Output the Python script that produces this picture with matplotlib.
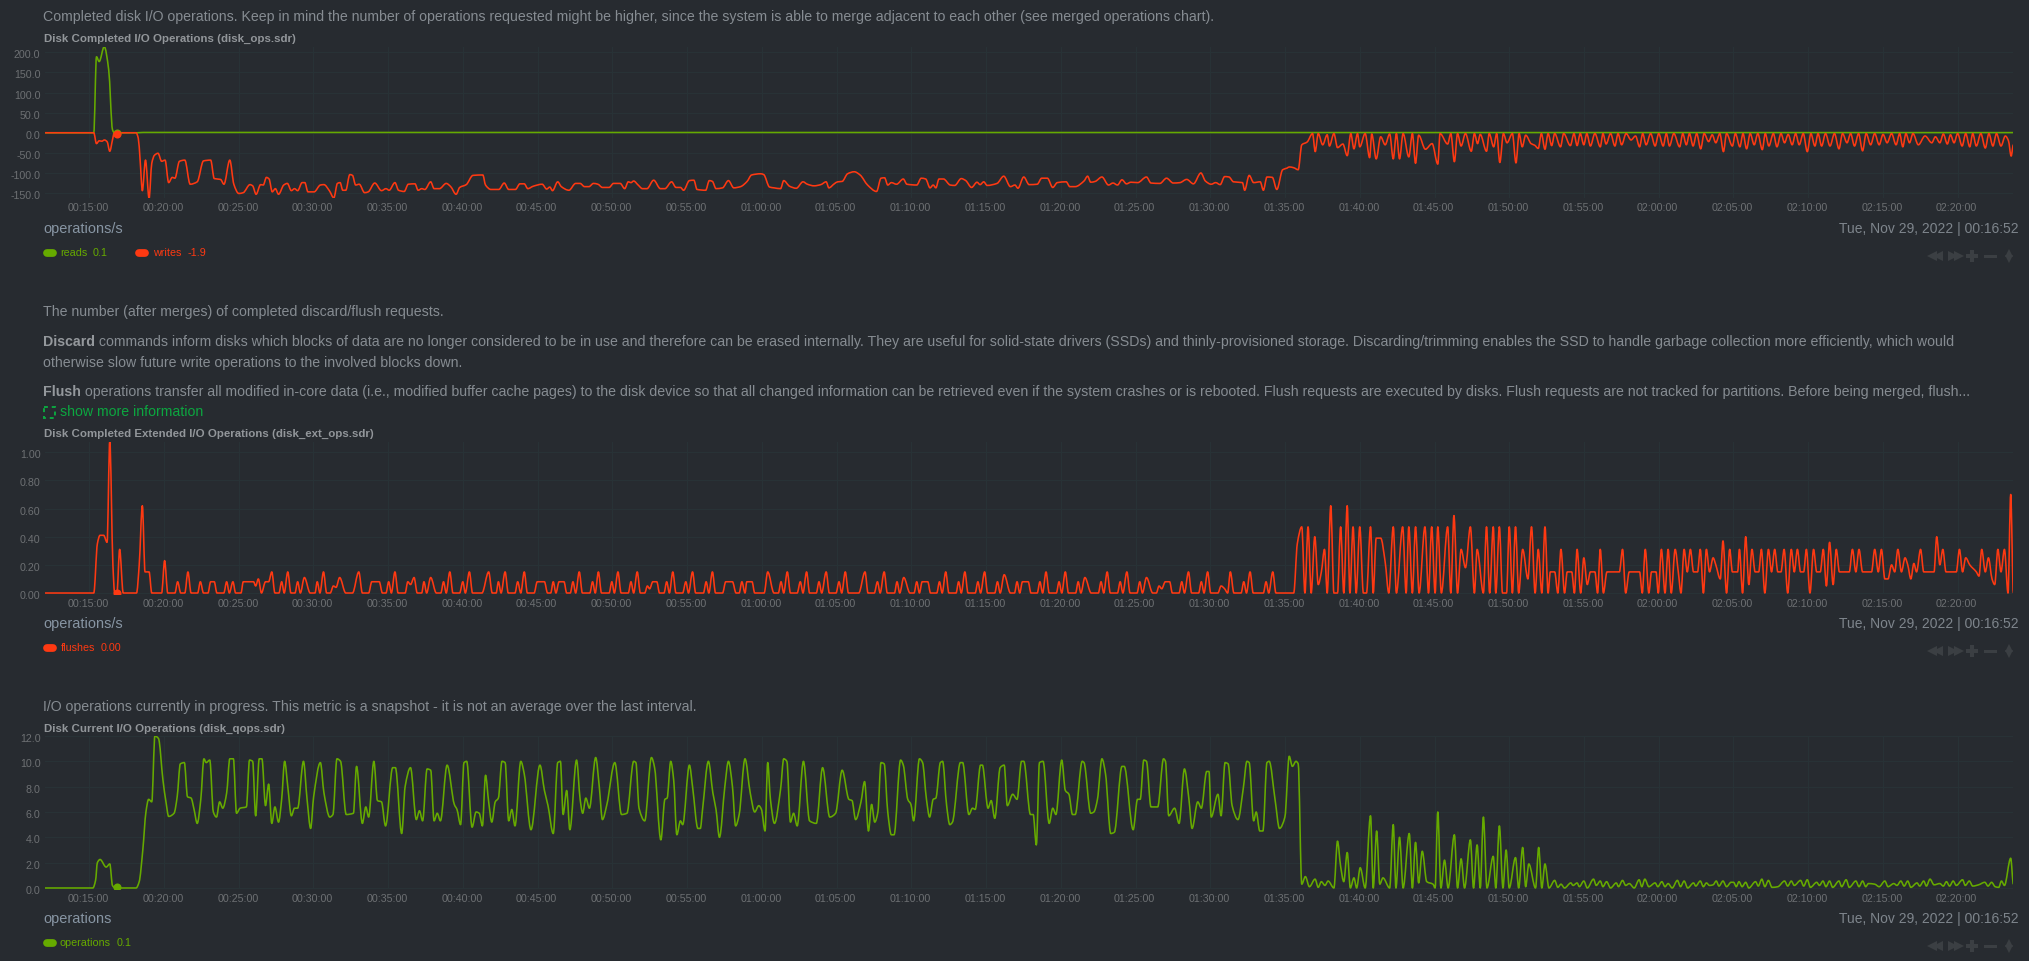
import matplotlib
matplotlib.use("Agg")
import matplotlib.pyplot as plt
from matplotlib.patches import PathPatch, Rectangle
from matplotlib.path import Path
from matplotlib.transforms import ScaledTranslation

# all series are (minutes after midnight, value)
reads = [(12.01, 0), (15.3, 0), (15.48, 189), (15.66, 177), (16.0, 214), (16.3, 156), (16.55, 8), (16.67, 0),
         (18.2, 0), (18.6, 0.8), (143.73, 0.4)]

writes = [(12.01, 0), (15.3, 0), (15.48, -27), (15.66, -20), (15.84, -21), (16.01, -18), (16.19, -22), (16.37, -46),
          (16.55, -18), (16.67, 0), (18.13, 0), (18.28, -14), (18.4, -68), (18.55, -144), (18.76, -68), (19.0, -163),
          (19.18, -76), (19.36, -56), (19.6, -51), (19.84, -71), (20.07, -68), (20.31, -124), (20.55, -111),
          (20.73, -113), (21.03, -71), (21.39, -68), (21.75, -128), (22.22, -122), (22.64, -70), (23.12, -68),
          (23.36, -114), (23.78, -116), (24.01, -128), (24.4, -68), (24.67, -128), (25.0, -151), (25.3, -149),
          (25.75, -129), (25.93, -132), (26.16, -153), (26.46, -129), (26.64, -130), (26.85, -111), (27.03, -115),
          (27.24, -147), (27.45, -139), (27.66, -153), (28.01, -130), (28.25, -126), (28.52, -144), (28.73, -139),
          (28.94, -144), (29.24, -124), (29.42, -124), (29.63, -147), (30.04, -147), (30.46, -130), (30.7, -129),
          (31.06, -144), (31.36, -162), (31.6, -126), (31.78, -124), (31.96, -143), (32.16, -143), (32.43, -104),
          (32.61, -106), (32.82, -130), (33.06, -128), (33.42, -149), (33.66, -147), (34.1, -125), (34.55, -144),
          (34.85, -139), (35.06, -143), (35.45, -124), (35.69, -143), (36.07, -146), (36.34, -128), (36.79, -127),
          (37.0, -143), (37.24, -139), (37.45, -141), (37.84, -122), (38.07, -139), (38.43, -139), (38.88, -126),
          (39.18, -134), (39.54, -153), (39.78, -136), (40.22, -129), (40.67, -106), (41.33, -105), (41.51, -130),
          (41.87, -141), (42.4, -141), (42.76, -125), (43.06, -141), (43.51, -141), (43.81, -127), (44.1, -127),
          (44.34, -139), (44.7, -133), (45.3, -128), (45.6, -140), (45.81, -135), (45.99, -144), (46.34, -122),
          (46.58, -134), (47.09, -143), (47.54, -126), (47.84, -126), (48.13, -134), (48.43, -134), (48.73, -126),
          (49.03, -128), (49.33, -136), (49.78, -136), (50.07, -126), (50.52, -126), (50.82, -139), (51.06, -122),
          (51.24, -124), (51.42, -120), (51.72, -130), (52.01, -139), (52.31, -139), (52.76, -118), (53.21, -139),
          (53.51, -139), (53.96, -122), (54.25, -136), (54.55, -136), (54.76, -143), (55.15, -119), (55.45, -118),
          (55.66, -141), (56.24, -143), (56.48, -119), (56.69, -121), (56.93, -139), (57.37, -137), (57.76, -119),
          (58.12, -137), (58.57, -134), (59.01, -121), (59.31, -105), (59.91, -102), (60.12, -104), (60.51, -135),
          (60.81, -137), (61.25, -139), (61.46, -119), (61.85, -133), (62.3, -138), (62.75, -122), (63.04, -128),
          (63.49, -132), (63.94, -129), (64.3, -122), (64.48, -137), (64.84, -127), (65.07, -122), (65.37, -121),
          (65.73, -102), (66.18, -97), (66.57, -105), (67.07, -130), (67.67, -146), (67.97, -113), (68.21, -112),
          (68.42, -130), (68.66, -124), (69.01, -128), (69.46, -115), (69.7, -128), (70.36, -130), (70.66, -113),
          (70.96, -115), (71.25, -137), (71.46, -130), (71.64, -137), (71.85, -115), (72.15, -115), (72.6, -130),
          (72.9, -131), (73.34, -114), (73.64, -119), (74.03, -136), (74.39, -123), (74.6, -129), (74.84, -122),
          (75.07, -131), (75.73, -126), (76.18, -108), (76.63, -134), (76.93, -130), (77.13, -138), (77.52, -110),
          (77.88, -129), (78.42, -128), (78.72, -113), (79.1, -113), (79.46, -136), (79.76, -124), (80.36, -122),
          (80.6, -134), (80.96, -134), (81.55, -120), (81.79, -108), (82.0, -123), (82.3, -121), (82.75, -110),
          (83.19, -130), (83.49, -125), (83.79, -130), (84.09, -117), (84.39, -127), (84.69, -123), (85.14, -124),
          (85.73, -110), (86.03, -125), (86.63, -126), (87.07, -113), (87.52, -125), (87.97, -124), (88.42, -116),
          (88.87, -127), (89.37, -100), (89.67, -120), (90.06, -128), (90.36, -124), (90.66, -129), (90.96, -109),
          (91.25, -110), (91.55, -122), (92.15, -124), (92.3, -143), (92.6, -106), (92.9, -124), (93.34, -122),
          (93.55, -143), (93.79, -110), (94.15, -111), (94.45, -141), (94.84, -92), (95.13, -88), (95.28, -85),
          (95.58, -87), (95.88, -92), (96.12, -30), (96.48, -23), (96.84, -2), (97.02, -47), (97.22, -2), (97.52, -30),
          (97.82, -5), (97.97, -33), (98.27, -2), (98.51, -37), (98.87, -28), (99.16, -57), (99.4, -2), (99.61, -40),
          (99.85, -2), (100.0, -35), (100.36, -2), (100.66, -62), (100.8, -3), (101.1, -65), (101.4, -10), (101.7, -30),
          (102.0, -3), (102.24, -65), (102.45, -2), (102.66, -65), (102.9, -2), (103.28, -60), (103.52, -2),
          (103.73, -76), (103.94, -6), (104.39, -41), (104.84, -27), (105.22, -78), (105.37, -2), (105.88, -28),
          (106.09, -2), (106.33, -72), (106.54, -2), (106.78, -33), (107.07, -2), (107.46, -46), (107.67, -2),
          (107.88, -27), (108.06, -4), (108.48, -46), (108.66, -2), (108.96, -35), (109.16, -2), (109.37, -74),
          (109.61, -2), (109.85, -25), (110.21, -2), (110.45, -75), (110.66, -2), (110.87, -35), (111.1, -6),
          (111.46, -27), (111.7, -31), (111.94, -39), (112.15, -2), (112.39, -41), (112.6, -2), (112.84, -32),
          (113.04, -2), (113.43, -35), (113.64, -2), (114.09, -32), (114.33, -2), (114.54, -32), (114.75, -2),
          (114.99, -30), (115.19, -2), (115.43, -33), (115.73, -2), (116.09, -35), (116.27, -2), (116.48, -28),
          (116.78, -2), (117.07, -33), (117.28, -2), (117.52, -30), (117.82, -2), (118.15, -18), (118.45, -8),
          (118.72, -35), (118.93, -2), (119.16, -30), (119.46, -2), (119.76, -33), (120.0, -2), (120.3, -33),
          (120.51, -2), (120.72, -33), (121.01, -2), (121.4, -35), (121.61, -2), (121.85, -30), (122.06, -2),
          (122.3, -33), (122.54, -2), (122.81, -40), (123.04, -2), (123.34, -22), (123.58, -5), (123.82, -25),
          (124.09, -2), (124.33, -47), (124.54, -2), (124.93, -33), (125.13, -2), (125.43, -35), (125.64, -2),
          (125.88, -40), (126.12, -2), (126.39, -30), (126.63, -2), (126.93, -42), (127.13, -2), (127.37, -33),
          (127.67, -2), (127.91, -35), (128.18, -2), (128.42, -25), (128.66, -4), (128.93, -30), (129.16, -2),
          (129.4, -30), (129.67, -2), (129.94, -47), (130.18, -2), (130.45, -33), (130.66, -2), (130.9, -33),
          (131.16, -2), (131.46, -33), (131.76, -2), (132.06, -40), (132.3, -2), (132.6, -25), (132.84, -2),
          (133.1, -33), (133.37, -2), (133.64, -45), (133.88, -2), (134.18, -30), (134.45, -2), (134.75, -30),
          (135.01, -4), (135.28, -25), (135.58, -2), (135.88, -30), (136.12, -2), (136.33, -35), (136.54, -2),
          (136.78, -25), (137.01, -2), (137.37, -30), (137.82, -8), (138.27, -25), (138.51, -10), (138.81, -25),
          (139.04, -3), (139.31, -28), (139.52, -5), (139.76, -25), (140.0, -2), (140.3, -33), (140.54, -2),
          (140.81, -35), (141.01, -2), (141.25, -33), (141.55, -2), (141.85, -38), (142.09, -2), (142.36, -33),
          (142.6, -2), (142.9, -33), (143.19, -8), (143.4, -20), (143.58, -58), (143.73, -30)]

flushes = [(12.01, 0), (15.3, 0), (15.54, .35), (15.72, .41), (15.96, .41), (16.19, .36), (16.37, 1.08), (16.58, .2),
           (16.7, 0), (16.85, 0), (17.03, .31), (17.27, 0), (18.16, 0), (18.34, .2), (18.55, .62), (18.73, .15),
           (19.0, .15), (19.18, 0), (19.84, 0), (20.04, .23), (20.25, 0), (20.73, 0), (20.91, .08), (21.12, 0),
           (21.39, 0), (21.6, .15), (21.81, 0), (22.25, 0), (22.43, .08), (22.64, 0), (22.94, 0), (23.12, .08),
           (23.36, .08), (23.54, 0), (24.0, 0), (24.19, .08), (24.37, 0), (24.61, .08), (24.79, 0), (25.15, 0),
           (25.3, .08), (25.99, .08), (26.13, .05), (26.31, .1), (26.52, 0), (26.79, .08), (27.0, .08), (27.21, .15),
           (27.42, 0), (27.69, 0), (27.87, .08), (28.04, 0), (28.28, .15), (28.49, 0), (28.76, 0), (28.94, .08),
           (29.12, 0), (29.39, .11), (29.78, 0), (30.1, 0), (30.25, .08), (30.43, 0), (30.67, .15), (30.88, 0),
           (31.12, 0), (31.33, .05), (31.51, .04), (31.75, .11), (32.16, 0), (32.61, 0), (33.03, .15), (33.27, 0),
           (33.69, 0), (33.9, .08), (34.4, .08), (34.61, 0), (34.85, 0), (35.03, .08), (35.21, 0), (35.45, .15),
           (35.66, 0), (36.13, 0), (36.31, .08), (36.49, .06), (36.73, .11), (36.94, 0), (37.24, 0), (37.39, .08),
           (37.57, 0), (37.84, .11), (38.22, 0), (38.52, 0), (38.7, .08), (38.88, 0), (39.12, .15), (39.33, 0),
           (39.78, 0), (39.99, .08), (40.16, 0), (40.43, .15), (40.64, 0), (41.27, 0), (41.72, .15), (41.96, 0),
           (42.22, 0), (42.37, .08), (42.55, 0), (42.82, .15), (43.03, 0), (43.48, 0), (43.66, .08), (43.87, 0),
           (44.1, .15), (44.31, 0), (44.76, 0), (44.97, .08), (45.45, .08), (45.66, 0), (45.87, 0), (46.04, .08),
           (46.22, 0), (46.43, .08), (46.76, .08), (46.94, 0), (47.18, 0), (47.36, .08), (47.54, 0), (47.78, .15),
           (47.99, 0), (48.49, 0), (48.67, .08), (48.85, 0), (49.06, .15), (49.27, 0), (49.78, 0), (49.96, .08),
           (50.13, 0), (50.37, .15), (50.58, 0), (51.06, 0), (51.24, .08), (51.42, 0), (51.66, .15), (51.87, 0),
           (52.16, 0), (52.34, .05), (52.49, .03), (52.7, .08), (52.97, .08), (53.15, 0), (53.45, 0), (53.63, .08),
           (53.81, 0), (54.04, .15), (54.25, 0), (54.7, 0), (54.91, .08), (55.09, 0), (55.36, .15), (55.57, 0),
           (56.09, 0), (56.27, .08), (56.45, 0), (56.69, .15), (56.9, 0), (57.37, 0), (57.58, .08), (58.03, .08),
           (58.27, 0), (58.48, 0), (58.66, .08), (58.87, 0), (58.99, .08), (59.34, .08), (59.52, 0), (60.15, 0),
           (60.39, .15), (60.81, 0), (61.1, 0), (61.28, .08), (61.46, 0), (61.7, .15), (61.91, 0), (62.36, 0),
           (62.57, .08), (62.75, 0), (62.99, .15), (63.19, 0), (63.64, 0), (63.82, .08), (64.0, 0), (64.3, .15),
           (64.51, 0), (64.96, 0), (65.16, .08), (65.34, 0), (65.58, .15), (65.79, 0), (66.48, 0), (66.9, .15),
           (67.1, 0), (67.52, 0), (67.73, .08), (67.91, 0), (68.18, .15), (68.39, 0), (68.87, 0), (69.04, .08),
           (69.22, 0), (69.49, .11), (69.91, 0), (70.18, 0), (70.36, .08), (70.54, 0), (70.72, .08), (71.1, .08),
           (71.28, 0), (71.7, 0), (71.88, .08), (72.06, 0), (72.3, .15), (72.51, 0), (72.99, 0), (73.16, .08),
           (73.34, 0), (73.58, .15), (73.79, 0), (74.27, 0), (74.45, .08), (74.63, 0), (74.9, .15), (75.1, 0),
           (75.58, 0), (75.76, .08), (75.94, 0), (76.21, .13), (76.63, 0), (76.9, 0), (77.07, .08), (77.25, 0),
           (77.43, .08), (77.82, .08), (78.0, 0), (78.42, 0), (78.6, .08), (78.78, 0), (79.01, .15), (79.22, 0),
           (79.7, 0), (79.88, .08), (80.06, 0), (80.3, .15), (80.51, 0), (80.99, 0), (81.16, .08), (81.34, 0),
           (81.61, .11), (82.03, 0), (82.51, 0), (82.69, .08), (82.87, 0), (83.1, .15), (83.31, 0), (83.79, 0),
           (83.97, .08), (84.15, 0), (84.42, .15), (84.63, 0), (85.1, 0), (85.28, .08), (85.46, 0), (85.73, .11),
           (86.15, 0), (86.39, 0), (86.57, .05), (86.75, .03), (86.99, .08), (87.28, .08), (87.46, 0), (87.91, 0),
           (88.09, .08), (88.27, 0), (88.54, .15), (88.75, 0), (89.22, 0), (89.4, .08), (89.58, 0), (89.82, .15),
           (90.03, 0), (90.51, 0), (90.72, .05), (90.96, .03), (91.16, 0), (91.34, .15), (91.58, 0), (92.06, 0),
           (92.24, .08), (92.42, 0), (92.66, .15), (92.87, 0), (93.55, 0), (93.73, .08), (93.91, 0), (94.18, .15),
           (94.39, 0), (95.58, 0), (95.82, .35), (96.12, .47), (96.33, 0), (96.54, .47), (96.75, 0), (96.99, .4),
           (97.22, .06), (97.43, .15), (97.64, .31), (97.82, 0), (98.06, .62), (98.27, 0), (98.51, 0), (98.72, .47),
           (98.93, 0), (99.16, .62), (99.34, 0), (99.55, .47), (99.76, 0), (100.0, .47), (100.24, 0), (100.45, 0),
           (100.72, .47), (100.9, 0), (101.1, .39), (101.4, .39), (101.7, .22), (101.94, 0), (102.24, .47),
           (102.45, 0), (102.87, .47), (103.1, 0), (103.28, .47), (103.52, 0), (103.73, .47), (103.97, 0),
           (104.36, .47), (104.6, 0), (104.81, .47), (105.04, 0), (105.22, .47), (105.46, 0), (105.88, .47),
           (106.09, 0), (106.3, .55), (106.54, 0), (106.78, .31), (107.07, .18), (107.4, .47), (107.67, 0),
           (107.85, .31), (108.27, 0), (108.48, .47), (108.69, 0), (108.93, .47), (109.1, 0), (109.34, .47),
           (109.55, 0), (109.82, 0), (110.0, .47), (110.21, 0), (110.42, .47), (110.63, 0), (110.9, .31), (111.25, .1),
           (111.49, .47), (111.73, 0), (111.94, .31), (112.18, 0), (112.39, .47), (112.6, 0), (112.75, .15),
           (113.04, .15), (113.25, 0), (113.46, .31), (113.7, 0), (113.88, .15), (114.18, .15), (114.36, 0),
           (114.54, .31), (114.78, 0), (114.99, .25), (115.22, .06), (115.43, .15), (115.73, .15), (115.91, 0),
           (116.09, .31), (116.3, 0), (116.54, .15), (117.37, .15), (117.58, .31), (117.79, 0), (118.03, .15),
           (118.72, .15), (118.9, 0), (119.1, .31), (119.34, 0), (119.52, .15), (119.82, .15), (119.97, 0),
           (120.18, .31), (120.42, 0), (120.63, .31), (120.84, 0), (121.1, .31), (121.31, .15), (121.49, 0),
           (121.7, .31), (121.91, .15), (122.12, .31), (122.33, .15), (122.6, .15), (122.78, .31), (122.99, 0),
           (123.19, .31), (123.4, .15), (123.64, .25), (123.82, .2), (124.12, .1), (124.3, .37), (124.54, 0),
           (124.75, .31), (124.93, .15), (125.28, .15), (125.4, .31), (125.61, 0), (125.82, .4), (126.03, .06),
           (126.24, .31), (126.45, .15), (126.69, .15), (126.87, .31), (127.1, 0), (127.34, .31), (127.55, .15),
           (127.76, .31), (127.97, .15), (128.18, .15), (128.39, .31), (128.63, 0), (128.87, .31), (129.07, .15),
           (129.28, .31), (129.49, .15), (129.7, .15), (129.88, .31), (130.12, 0), (130.36, .31), (130.57, .15),
           (130.81, .15), (131.01, .31), (131.22, .05), (131.43, .36), (131.67, .06), (131.88, .31), (132.09, .15),
           (132.75, .15), (132.96, .31), (133.19, .15), (133.4, .31), (133.64, .15), (134.24, .15), (134.45, .31),
           (134.69, .15), (134.9, .31), (135.13, .1), (135.34, .1), (135.58, .2), (135.79, .15), (136.0, .31),
           (136.24, .15), (136.48, .25), (136.66, .2), (136.87, .1), (137.07, .21), (137.25, .15), (137.52, .31),
           (137.73, .15), (138.42, .15), (138.6, .4), (138.81, .2), (139.01, .31), (139.22, .15), (139.91, .15),
           (140.12, .31), (140.33, .15), (140.54, .25), (140.81, .2), (141.25, .15), (141.43, .12), (141.61, .31),
           (141.85, .15), (142.06, .25), (142.3, .1), (142.48, .06), (142.69, .31), (142.9, .15), (143.13, .31),
           (143.37, 0), (143.55, .7), (143.73, 0)]

qops = [(12.01, 0), (15.24, 0), (15.42, .6), (15.54, 2.0), (15.72, 2.25), (16.13, 1.65), (16.37, 1.9), (16.55, .2),
        (16.73, 0), (18.13, 0), (18.34, .5), (18.58, 3.0), (18.79, 6), (18.97, 7.0), (19.18, 6.8), (19.39, 12),
        (19.63, 11.8), (19.93, 8.5), (20.13, 6.8), (20.31, 5.65), (20.67, 5.9), (20.88, 7.2), (21.09, 9.8),
        (21.36, 9.9), (21.57, 7.2), (21.81, 7.1), (22.01, 6.2), (22.22, 5.1), (22.46, 7), (22.67, 10.2), (22.82, 9.9),
        (23.06, 10.1), (23.3, 6), (23.51, 5.6), (23.72, 6.8), (23.93, 6.3), (24.19, 7.5), (24.4, 10.2), (24.64, 10.2),
        (24.85, 5.9), (25.09, 6.3), (25.51, 6.4), (25.72, 10.1), (25.93, 10), (26.13, 5.7), (26.37, 10.2),
        (26.55, 10.2), (26.79, 6.5), (27.0, 8.2), (27.21, 5.1), (27.42, 6.4), (27.66, 5.2), (27.87, 7), (28.07, 10),
        (28.28, 8), (28.52, 5.7), (28.73, 6.3), (28.94, 6.3), (29.33, 10), (29.57, 7), (29.81, 4.7), (30.01, 7.2),
        (30.46, 9.9), (30.7, 7.5), (31.09, 5.6), (31.3, 5.8), (31.57, 10.2), (31.81, 10), (32.19, 5.8), (32.67, 5.9),
        (32.88, 9.6), (33.27, 5.1), (33.5, 6.4), (33.69, 5.6), (34.04, 10), (34.28, 6.9), (34.55, 6.8), (34.82, 4.9),
        (35.3, 9.5), (35.48, 9.5), (35.9, 4.3), (36.13, 8), (36.49, 9.5), (36.88, 5.4), (37.09, 6.1), (37.3, 5.3),
        (37.6, 9.4), (37.84, 9.3), (38.07, 5.3), (38.28, 5.9), (38.49, 5.3), (38.94, 9.7), (39.42, 6.6), (39.6, 6.2),
        (39.84, 5), (40.07, 9.9), (40.25, 10), (40.61, 4.8), (40.88, 6), (41.09, 5.9), (41.3, 4.9), (41.51, 8.9),
        (41.72, 6.8), (41.93, 5.2), (42.16, 6.8), (42.37, 7.1), (42.61, 10), (42.82, 9.9), (43.06, 5.3), (43.27, 6.2),
        (43.48, 4.9), (43.87, 10), (44.1, 9), (44.55, 4.6), (45.15, 9.7), (45.45, 7.7), (45.69, 6.5), (46.04, 4.3),
        (46.34, 9.9), (46.52, 10), (46.7, 5.8), (46.94, 7.7), (47.15, 4.6), (47.6, 10.1), (47.84, 7), (48.01, 5.9),
        (48.22, 7.1), (48.46, 6.3), (48.88, 10.3), (49.12, 8), (49.33, 5.4), (49.63, 6.6), (50.16, 9.9), (50.61, 5.8),
        (50.97, 5.9), (51.42, 10), (51.57, 9.9), (51.78, 6.3), (52.16, 5.3), (52.61, 10.3), (52.82, 9.5), (53.24, 3.8),
        (53.51, 7), (53.66, 7.1), (53.9, 10), (54.1, 8.5), (54.31, 4.2), (54.55, 5.3), (54.7, 5), (55.15, 9.7),
        (55.36, 8), (55.72, 4.7), (55.88, 4.7), (56.03, 6.2), (56.42, 10), (56.72, 7.5), (56.93, 6.2), (57.16, 4),
        (57.52, 8), (57.76, 10), (58.03, 8), (58.24, 4.9), (58.48, 5.8), (58.87, 10.2), (59.22, 7.5), (59.52, 6),
        (59.79, 6.5), (59.97, 6.2), (60.21, 4.5), (60.39, 9.9), (60.57, 7), (60.84, 5.1), (61.25, 7.8), (61.46, 10.2),
        (61.67, 10), (61.91, 5.2), (62.12, 5.9), (62.36, 4.9), (62.78, 10), (63.19, 5.3), (63.64, 5.1), (64.06, 9.5),
        (64.54, 5.6), (64.93, 5.9), (65.37, 9.3), (65.82, 7), (66.03, 6.9), (66.27, 5.4), (66.63, 6.8), (66.87, 8.4),
        (67.13, 4.5), (67.34, 6.6), (67.55, 5.2), (67.76, 6), (67.97, 9.9), (68.18, 9.8), (68.42, 6), (68.66, 4.2),
        (68.84, 4.2), (69.28, 10.1), (69.46, 9.7), (69.76, 7), (69.97, 6.6), (70.15, 5.3), (70.54, 10.2), (70.75, 9.9),
        (71.01, 7), (71.22, 5.6), (71.46, 7), (71.64, 7.1), (71.94, 9.9), (72.09, 10), (72.36, 6.5), (72.57, 5),
        (72.75, 5.2), (73.28, 9.9), (73.43, 9.9), (73.85, 5.8), (74.09, 6.3), (74.27, 6.2), (74.63, 9.7), (74.75, 9.7),
        (75.13, 6.3), (75.34, 6.9), (75.58, 5.5), (75.94, 9.5), (76.21, 9.7), (76.42, 6.5), (76.78, 7.4), (77.07, 7),
        (77.37, 10), (77.52, 10), (77.97, 5.8), (78.15, 5.8), (78.36, 3.4), (78.57, 9.9), (78.81, 10), (79.22, 5.1),
        (79.46, 6.3), (79.67, 5.8), (80.06, 10.1), (80.3, 7.7), (80.54, 7.4), (80.78, 5.8), (80.96, 5.8), (81.43, 10),
        (81.55, 9.9), (82.0, 5.9), (82.21, 6), (82.45, 7), (82.75, 10.2), (82.99, 9), (83.34, 4.3), (83.58, 4.4),
        (84.09, 9.6), (84.24, 9.6), (84.84, 4.6), (85.13, 7), (85.31, 7), (85.55, 10.1), (85.73, 10), (86.03, 6.4),
        (86.48, 6.4), (86.87, 10.2), (87.0, 10), (87.22, 5.7), (87.61, 6.3), (87.91, 5.1), (88.27, 9.4), (88.57, 7),
        (88.78, 4.7), (89.16, 6.8), (89.4, 6.3), (89.76, 9.2), (89.91, 9.2), (90.06, 5.6), (90.51, 7.4), (90.72, 5.7),
        (90.99, 9.9), (91.19, 9.8), (91.46, 6.5), (91.85, 5.4), (92.21, 7.9), (92.45, 10), (92.6, 9.9), (92.9, 5.3),
        (93.07, 6), (93.31, 4.5), (93.52, 4.5), (93.79, 9.9), (93.94, 10), (94.33, 7), (94.63, 4.7), (94.99, 5.6),
        (95.28, 10.4), (95.49, 9.6), (95.73, 10), (95.88, 9.8), (96.12, .3), (96.36, .9), (96.63, .1), (97.01, .7),
        (97.22, .05), (97.43, .5), (97.67, .2), (97.88, .55), (98.27, 0), (98.51, 3.7), (98.72, 1.7), (98.93, .5),
        (99.16, 2.8), (99.37, 0), (99.61, .8), (99.79, 0), (100.03, 1.6), (100.36, 0), (100.72, 5.7), (100.9, 0),
        (101.13, 4.5), (101.34, .3), (101.55, .8), (102.0, 0), (102.24, 5), (102.42, 0), (102.66, 4), (102.9, 0),
        (103.31, 4.3), (103.52, 0), (103.73, 3.6), (103.94, .4), (104.18, 2.9), (104.48, .5), (104.9, .3), (105.04, 0),
        (105.22, 6), (105.43, 0), (105.67, 2.2), (105.91, 0), (106.33, 4.2), (106.54, 0), (106.78, 2.3), (107.01, 0),
        (107.4, 3.8), (107.61, 0), (107.85, 3.4), (108.06, 0), (108.27, 5.6), (108.51, 0), (108.93, 2.5), (109.1, 0),
        (109.34, 4.9), (109.58, 0), (109.79, 3), (110.0, 0), (110.42, 2.4), (110.63, 0), (110.9, 3.2), (111.1, .1),
        (111.31, 1.9), (111.76, 0), (111.97, 3.2), (112.18, 0), (112.39, 1.9), (112.66, 0), (113.04, .6), (113.25, .05),
        (113.46, .3), (113.7, 0), (114.12, .4), (114.27, .2), (114.54, .4), (114.69, .1), (114.99, .55), (115.22, 0),
        (115.64, .7), (115.82, .2), (116.09, .55), (116.27, .1), (116.51, .5), (116.78, 0), (117.16, .4), (117.31, .1),
        (117.58, .6), (117.79, .2), (118.03, .35), (118.36, 0), (118.69, .65), (118.87, .1), (119.07, .7), (119.34, .1),
        (119.76, .4), (119.94, .1), (120.21, .5), (120.42, .1), (120.63, .35), (120.9, 0), (121.25, .6), (121.46, .1),
        (121.7, .55), (121.94, 0), (122.33, .4), (122.48, .15), (122.78, .55), (122.99, .1), (123.19, .4), (123.4, .2),
        (123.64, .25), (123.85, .55), (124.03, .15), (124.3, .55), (124.54, .1), (124.84, .45), (125.01, .45),
        (125.19, .1), (125.37, .5), (125.58, .1), (125.82, .45), (126.03, 0), (126.48, .5), (126.66, .15), (126.9, .7),
        (127.1, .1), (127.34, .6), (127.58, .05), (127.97, .1), (128.42, .55), (128.63, .15), (128.87, .55),
        (129.07, .2), (129.49, .6), (129.7, .15), (129.94, .65), (130.15, .05), (130.57, .45), (130.75, .2),
        (130.99, .55), (131.19, .1), (131.43, .55), (131.64, .05), (132.06, .55), (132.24, .1), (132.54, .65),
        (132.75, .05), (133.19, .55), (133.4, .1), (133.64, .55), (133.85, .1), (134.03, .35), (134.45, .3),
        (134.75, .1), (135.13, .55), (135.34, .1), (135.73, .35), (135.94, .2), (136.2, .55), (136.42, .15),
        (136.66, .55), (136.87, .05), (137.28, .4), (137.46, .15), (137.73, .55), (137.91, .15), (138.15, .7),
        (138.42, .25), (138.81, .35), (139.04, .15), (139.25, .5), (139.46, .15), (139.7, .55), (139.91, .2),
        (140.33, .65), (140.51, .2), (140.78, .55), (141.01, .15), (141.4, .25), (141.82, .45), (142.03, .15),
        (142.27, .45), (142.51, .1), (142.75, .05), (142.93, .55), (143.13, .2), (143.55, 2.35), (143.73, .3)]

hover_minute = 16.87
tick_minutes = list(range(15, 141, 5))
yticks_ops = [200, 150, 100, 50, 0, -50, -100, -150]
yticks_ext = [1.0, .8, .6, .4, .2, 0]
yticks_qops = [12, 10, 8, 6, 4, 2, 0]

BG = "#272b30"
GRID = "#283236"
GREEN = "#66aa00"
RED = "#fe3912"
TITLE = "#92969a"
W, H = 2029, 961

plt.rcParams['font.family'] = ['Liberation Sans', 'DejaVu Sans']

fig = plt.figure(figsize=(W / 100, H / 100), dpi=100, facecolor=BG)

# pixel overlay for all the page text around the charts
ov = fig.add_axes([0, 0, 1, 1])
ov.set_xlim(0, W)
ov.set_ylim(H, 0)
ov.axis("off")


def px(size):
    return size * 0.72


def txt(x, y, s, size=14.14, color="#868c92", **kw):
    return ov.text(x, y, s, fontsize=px(size), color=color, va="center", **kw)


def bold_then(x, y, head, rest):
    t = txt(x, y, head, weight="bold", color="#94989c")
    ext = t.get_window_extent(fig.canvas.get_renderer())
    txt(ext.x1, y, rest)


def minute_label(m):
    return "%02d:%02d:00" % (m // 60, m % 60)


def smooth_path(data):
    # same vertices, joined with flat tangents on turning points like the browser's smooth plotter
    xs = [p[0] for p in data]
    ys = [p[1] for p in data]
    n = len(xs)
    sec = [(ys[i + 1] - ys[i]) / (xs[i + 1] - xs[i]) for i in range(n - 1)]
    m = [0.0] * n
    for i in range(1, n - 1):
        if sec[i - 1] * sec[i] > 0:
            m[i] = 2 * sec[i - 1] * sec[i] / (sec[i - 1] + sec[i])
    verts = [(xs[0], ys[0])]
    codes = [Path.MOVETO]
    for i in range(n - 1):
        dx = (xs[i + 1] - xs[i]) / 3
        verts += [(xs[i] + dx, ys[i] + m[i] * dx), (xs[i + 1] - dx, ys[i + 1] - m[i + 1] * dx), (xs[i + 1], ys[i + 1])]
        codes += [Path.CURVE4] * 3
    return Path(verts, codes)


def chart(top, bottom, ylim, ticks, fmt, series, markers):
    left, right = 44.6, 2013.4
    ax = fig.add_axes([left / W, 1 - bottom / H, (right - left) / W, (bottom - top) / H])
    ax.set_facecolor("none")
    for s in ax.spines.values():
        s.set_visible(False)
    ax.set_xlim(12.01, 143.73)
    ax.set_ylim(*ylim)
    ax.set_xticks(tick_minutes, [minute_label(m) for m in tick_minutes])
    ax.set_yticks(ticks, [fmt % v for v in ticks])
    ax.grid(True, color=GRID, lw=0.8)
    ax.set_axisbelow(True)
    ax.tick_params(length=0, labelsize=px(10.6), labelcolor="#6d7073")
    ax.tick_params(axis="x", pad=3.5)
    ax.tick_params(axis="y", pad=3)
    for lab in ax.get_yticklabels():
        lab.set_transform(lab.get_transform() + ScaledTranslation(0, -2 / 100, fig.dpi_scale_trans))
    for lab in ax.get_xticklabels():
        lab.set_transform(lab.get_transform() + ScaledTranslation(-1 / 100, 0, fig.dpi_scale_trans))
    for data, color in series:
        ax.add_patch(PathPatch(smooth_path(data), fill=False, ec=color, lw=1.15, joinstyle="round"))
    for y, color in markers:
        ax.plot([hover_minute], [y], "o", color=color, ms=5.8, mew=0)
    return ax


def legend(y, items):
    for x, x_name, name, x_val, val, color in items:
        ov.plot([x + 4, x + 10], [y, y], color=color, lw=5.6, solid_capstyle="round")
        txt(x_name, y, name, size=10.8, color=color)
        txt(x_val, y, val, size=10.8, color=color)


def footer(y_unit, unit, y_legend):
    txt(43, y_unit, unit, size=14.5, color="#8795a3")
    txt(2018.5, y_unit, "Tue, Nov 29, 2022 | 00:16:52", size=13.9, color="#7e858c", ha="right")
    # resize/pan buttons, nearly the same tone as the page
    c = "#3b3f43"
    y = y_legend + 3
    for x in (1936, 1942):
        ov.plot([x - 4], [y], marker="<", color=c, ms=6.5, mew=0)
    for x in (1953, 1959):
        ov.plot([x], [y], marker=">", color=c, ms=6.5, mew=0)
    ov.plot([1972], [y], marker="P", color=c, ms=8, mew=0)
    ov.plot([1985, 1995], [y, y], color=c, lw=2.2)
    ov.plot([2009], [y - 3], marker="^", color=c, ms=6, mew=0)
    ov.plot([2009], [y + 3], marker="v", color=c, ms=6, mew=0)


# first chart
txt(43, 17, "Completed disk I/O operations. Keep in mind the number of operations requested might be higher, "
            "since the system is able to merge adjacent to each other (see merged operations chart).")
txt(44, 39, "Disk Completed I/O Operations (disk_ops.sdr)", size=11.45, color=TITLE, weight="bold")
chart(46.7, 198.3, (-163, 214), yticks_ops, "%.1f", [(reads, GREEN), (writes, RED)], [(0.1, GREEN), (-1.9, RED)])
footer(229, "operations/s", 253)
legend(253, [(43, 60, "reads", 93, "0.1", GREEN), (135, 153, "writes", 188, "-1.9", RED)])

# second chart
txt(43, 312, "The number (after merges) of completed discard/flush requests.")
bold_then(43, 342, "Discard", " commands inform disks which blocks of data are no longer considered to be in use and "
          "therefore can be erased internally. They are useful for solid-state drivers (SSDs) and "
          "thinly-provisioned storage. Discarding/trimming enables the SSD to handle garbage collection more "
          "efficiently, which would")
txt(43, 363, "otherwise slow future write operations to the involved blocks down.")
bold_then(43, 392, "Flush", " operations transfer all modified in-core data (i.e., modified buffer cache pages) to the "
          "disk device so that all changed information can be retrieved even if the system crashes or is rebooted. "
          "Flush requests are executed by disks. Flush requests are not tracked for partitions. Before being merged, "
          "flush...")
ov.add_patch(Rectangle((44, 407), 11, 11, fill=False, ec="#0ca640", lw=1.4, ls=(0, (2, 2))))
txt(60, 412, "show more information", color="#0ca640")
txt(44, 434, "Disk Completed Extended I/O Operations (disk_ext_ops.sdr)", size=11.45, color=TITLE, weight="bold")
chart(441.7, 594, (-0.007, 1.075), yticks_ext, "%.2f", [(flushes, RED)], [(0, RED)])
footer(624, "operations/s", 648)
legend(648, [(43, 61, "flushes", 101, "0.00", RED)])

# third chart
txt(43, 707, "I/O operations currently in progress. This metric is a snapshot - it is not an average over the last interval.")
txt(44, 729, "Disk Current I/O Operations (disk_qops.sdr)", size=11.45, color=TITLE, weight="bold")
chart(736, 889, (-0.08, 11.9), yticks_qops, "%.1f", [(qops, GREEN)], [(0.1, GREEN)])
footer(919, "operations", 943)
legend(943, [(43, 60, "operations", 117, "0.1", GREEN)])

fig.savefig("out.png", dpi=100, facecolor=BG)
